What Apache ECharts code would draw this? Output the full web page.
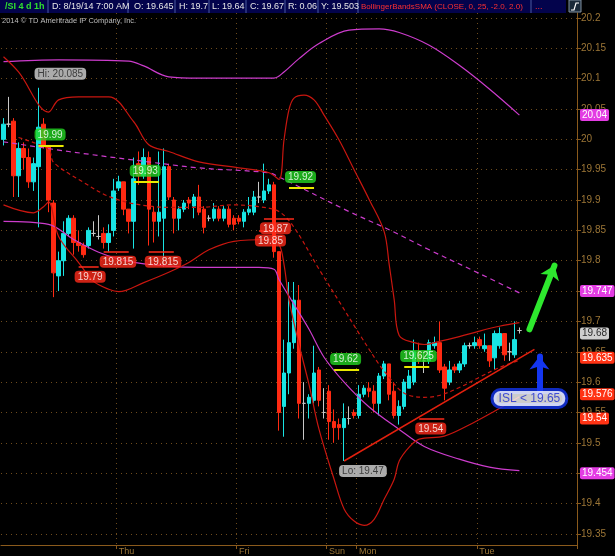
<!DOCTYPE html>
<html><head><meta charset="utf-8">
<script src="https://cdn.jsdelivr.net/npm/echarts@6/dist/echarts.min.js"></script>
<style>html,body{margin:0;padding:0;background:#000;}#c{width:615px;height:556px;}</style>
</head><body><div id="c"></div>
<script>
// ---------- data ----------
const slotCount = 115;               // hourly slots on the time axis
const dayTicks = [23, 47, 65, 71, 95];
const dayLabels = ['Thu', 'Fri', 'Sun', 'Mon', 'Tue'];
const priceTicks = [20.2,20.15,20.1,20.05,20,19.95,19.9,19.85,19.8,19.75,19.7,19.65,19.6,19.55,19.5,19.45,19.4,19.35];
const yMin = 19.3316, yMax = 20.2082;

// candles: [open, close, low, high]
const candles = [
[20.0,20.025,19.99,20.035],[20.025,20.025,20.02,20.07],[20.03,19.94,19.905,20.035],[19.94,19.985,19.905,19.995],
[19.985,19.97,19.95,19.995],[19.97,19.93,19.92,19.985],[19.93,19.96,19.915,19.97],[19.955,20.02,19.855,20.085],
[20.025,19.99,19.985,20.035],[19.99,19.9,19.88,19.99],[19.895,19.78,19.74,19.9],[19.775,19.8,19.75,19.815],
[19.8,19.845,19.775,19.865],[19.845,19.87,19.84,19.875],[19.87,19.83,19.81,19.875],[19.83,19.825,19.815,19.85],
[19.825,19.81,19.805,19.83],[19.825,19.85,19.82,19.855],[19.845,19.845,19.84,19.865],[19.84,19.84,19.835,19.875],
[19.845,19.83,19.82,19.855],[19.83,19.845,19.815,19.86],[19.85,19.915,19.84,19.935],[19.92,19.93,19.915,19.94],
[19.93,19.885,19.875,19.93],[19.885,19.865,19.845,19.885],[19.865,19.935,19.82,19.97],[19.96,19.94,19.925,19.98],
[19.94,19.97,19.935,19.985],[19.97,19.885,19.825,19.98],[19.88,19.865,19.83,19.89],[19.865,19.88,19.84,19.98],
[19.87,19.955,19.79,19.985],[19.955,19.905,19.9,19.96],[19.9,19.87,19.845,19.905],[19.87,19.885,19.85,19.89],
[19.885,19.895,19.88,19.9],[19.9,19.895,19.885,19.905],[19.89,19.905,19.87,19.91],[19.905,19.88,19.875,19.925],
[19.885,19.855,19.845,19.89],[19.87,19.87,19.865,19.875],[19.87,19.885,19.865,19.895],[19.885,19.87,19.865,19.89],
[19.87,19.885,19.865,19.89],[19.885,19.86,19.855,19.89],[19.87,19.86,19.85,19.875],[19.87,19.865,19.86,19.875],
[19.865,19.88,19.855,19.885],[19.88,19.885,19.875,19.905],[19.88,19.905,19.875,19.915],[19.905,19.905,19.895,19.93],
[19.9,19.915,19.895,19.96],[19.915,19.925,19.91,19.935],[19.925,19.815,19.805,19.93],[19.815,19.55,19.52,19.815],
[19.56,19.615,19.51,19.67],[19.615,19.665,19.58,19.765],[19.665,19.735,19.655,19.765],[19.735,19.565,19.54,19.76],
[19.565,19.565,19.505,19.6],[19.565,19.575,19.54,19.58],[19.57,19.615,19.565,19.66],[19.62,19.57,19.56,19.625],
[19.55,19.55,19.54,19.59],[19.585,19.535,19.505,19.595],[19.535,19.525,19.5,19.555],[19.53,19.525,19.505,19.54],
[19.525,19.54,19.47,19.565],[19.54,19.54,19.53,19.56],[19.55,19.545,19.54,19.555],[19.545,19.58,19.54,19.595],
[19.58,19.59,19.575,19.595],[19.59,19.585,19.575,19.6],[19.585,19.565,19.55,19.595],[19.565,19.61,19.545,19.615],
[19.61,19.63,19.605,19.635],[19.63,19.58,19.57,19.63],[19.585,19.545,19.54,19.6],[19.545,19.56,19.53,19.57],
[19.56,19.6,19.555,19.605],[19.59,19.61,19.59,19.62],[19.6,19.65,19.595,19.67],[19.65,19.635,19.63,19.665],
[19.635,19.635,19.615,19.65],[19.635,19.665,19.63,19.67],[19.66,19.665,19.655,19.675],[19.665,19.62,19.615,19.7],
[19.625,19.59,19.57,19.63],[19.6,19.62,19.595,19.635],[19.625,19.62,19.615,19.63],[19.62,19.63,19.615,19.635],
[19.63,19.66,19.625,19.665],[19.66,19.66,19.655,19.665],[19.66,19.665,19.655,19.675],[19.67,19.66,19.655,19.675],
[19.655,19.66,19.65,19.68],[19.66,19.635,19.625,19.66],[19.64,19.68,19.62,19.685],[19.66,19.68,19.655,19.69],
[19.68,19.645,19.635,19.68],[19.65,19.65,19.635,19.665],[19.645,19.67,19.64,19.7],[19.685,19.685,19.68,19.69]
];

// Bollinger (25, 2) on the hourly chart: [slot, value]
const bbUpper = [[0,20.136],[3,20.111],[9,20.045],[11,20.065],[15,20.07],[21,20.07],[26,20.029],[29,19.991],[33,19.98],[39,19.963],[47,19.953],[53,19.945],[55,19.934],[56,19.999],[57,20.049],[58,20.068],[60,20.073],[62,20.065],[64,20.04],[67,19.999],[70,19.95],[73,19.901],[76,19.848],[77,19.794],[78,19.736],[79,19.677],[82,19.665],[84,19.662],[87,19.667],[91,19.675],[95,19.684],[99,19.692],[103,19.698]];
const bbMiddle = [[3,20.003],[9,19.983],[10,19.962],[16,19.929],[21,19.906],[26,19.894],[33,19.888],[39,19.888],[46,19.892],[51,19.889],[55,19.881],[58,19.855],[63,19.786],[67,19.733],[71,19.68],[75,19.629],[77,19.608],[79,19.588],[81,19.578],[84,19.575],[87,19.578],[91,19.591],[95,19.608],[99,19.624],[103,19.636]];
const bbLower = [[0,19.892],[6,19.879],[8,19.889],[9,19.897],[11,19.84],[15,19.797],[18,19.766],[21,19.753],[23,19.749],[28,19.764],[33,19.781],[37,19.797],[41,19.818],[46,19.832],[53,19.835],[55,19.827],[56,19.794],[57,19.736],[59,19.662],[61,19.596],[63,19.522],[66,19.44],[68,19.391],[70,19.371],[72,19.364],[74,19.374],[76,19.407],[78,19.44],[79,19.47],[81,19.493],[83,19.506],[88,19.511],[94,19.534],[98,19.552],[103,19.576]];
// longer Bollinger (magenta): [slot, value]
const longUpper = [[0,20.128],[11,20.131],[25,20.129],[28,20.121],[33,20.103],[39,20.101],[54,20.101],[56,20.111],[59,20.133],[63,20.158],[69,20.18],[75,20.182],[79,20.176],[85,20.155],[91,20.122],[97,20.083],[103,20.04]];
const longMiddle = [[0,19.996],[13,19.98],[26,19.966],[39,19.953],[53,19.945],[55,19.938],[59,19.922],[69,19.881],[77,19.851],[85,19.818],[95,19.779],[103,19.747]];
const longLower = [[0,19.865],[9,19.86],[14,19.835],[19,19.814],[25,19.799],[33,19.791],[39,19.789],[51,19.789],[54,19.786],[55,19.769],[58,19.728],[61,19.687],[64,19.641],[68,19.6],[73,19.559],[79,19.522],[84,19.494],[91,19.473],[97,19.46],[103,19.454]];

const trendLine = [[68,19.47],[106,19.654]];
// swing levels: [fromSlot, toSlot, price]
const swingHighs = [[7,12,19.99],[26,31,19.93],[57,62,19.92],[66,71,19.62],[80,85,19.625]];
const swingLows = [[15,19,19.79],[20,25,19.815],[29,34,19.815],[52,58,19.87],[51,56,19.85],[83,88,19.54]];
const extremes = [{slot:7, value:20.085, text:'Hi: 20.085', dir:'up'},{slot:68, value:19.47, text:'Lo: 19.47', dir:'down'}];
const priceBadges = [
  {value:20.04, text:'20.04', kind:'magenta'},
  {value:19.747, text:'19.747', kind:'magenta'},
  {value:19.68, text:'19.68', kind:'gray'},
  {value:19.635, text:'19.635', kind:'red'},
  {value:19.576, text:'19.576', kind:'red'},
  {value:19.54, text:'19.54', kind:'red'},
  {value:19.454, text:'19.454', kind:'magenta'}
];
const upArrow = [[105,19.687],[110,19.792]];
const islArrow = [[107,19.58],[107,19.642]];
const islNote = {slot:105, value:19.573, text:'ISL < 19.65'};
const headerItems = [
  {x:5, text:'/SI 4 d 1h', color:'#2fe02f', bold:true},
  {x:52, text:'D: 8/19/14 7:00 AM'},
  {x:134, text:'O: 19.645'},
  {x:179, text:'H: 19.7'},
  {x:212, text:'L: 19.64'},
  {x:250, text:'C: 19.67'},
  {x:288, text:'R: 0.06'},
  {x:321, text:'Y: 19.503'},
  {x:361, text:'BollingerBandsSMA (CLOSE, 0, 25, -2.0, 2.0)', color:'#ff3030', size:8},
  {x:535, text:'...', color:'#ff3030'}
];
const headerSeps = [48,128,175,209,246,285,318,358,531];

// ---------- styles ----------
const FONT = '"Liberation Sans", Arial, sans-serif';
const CYAN = '#19e4e4', RED = '#ff2a12', DOJI = '#c8c8c8';
const BBRED = '#c8160f', MAG = '#cc3ccc';
const AXIS = '#8a5a1c', TXT = '#9c7636', GRID = '#6e4c1e';
const badgeColors = {magenta:['#e33ce3','#ffffff'], red:['#ff3314','#ffffff'], gray:['#cfcfcf','#2a2a2a']};

const cats = Array.from({length: slotCount}, (_, i) => 'h' + i);

function lineSeries(data, color, type, width) {
  return {type:'line', data, showSymbol:false, smooth:0.35, z:4, silent:true,
    lineStyle:{color, width: width || 1.2, type: type || 'solid'}};
}

const segLines = [];
swingHighs.forEach(([a,b,v]) => segLines.push([{coord:[a,v], lineStyle:{color:'#e8e800', width:2, type:'solid'}},{coord:[b,v]}]));
swingLows.forEach(([a,b,v]) => segLines.push([{coord:[a,v], lineStyle:{color:'#ff2a1a', width:1.5, type:'solid'}},{coord:[b,v]}]));

const bubbleData = [];
swingHighs.forEach(([a,b,v]) => bubbleData.push({value:[a,v], label:{formatter:String(v), position:[-4,-17], backgroundColor:'#22d422', color:'#ffffff'}}));
swingLows.forEach(([a,b,v]) => bubbleData.push({value:[a,v], label:{formatter:String(v), position:[-4,4], backgroundColor:'#ff2a1a', color:'#ffffff'}}));
extremes.forEach(e => bubbleData.push({value:[e.slot,e.value], label:{formatter:e.text, position: e.dir==='up' ? [-4,-20] : [-5,4], backgroundColor:'#d6d6d6', color:'#222'}}));

const badgeLines = priceBadges.map(b => ({
  yAxis: b.value,
  lineStyle:{color:'rgba(0,0,0,0)', width:0},
  label:{show:true, position:'end', distance:3, formatter:b.text, backgroundColor:badgeColors[b.kind][0], color:badgeColors[b.kind][1],
    fontSize:10, fontFamily:FONT, padding:[1,2,0,2], borderRadius:2, lineHeight:11}
}));

const graphics = [
  {type:'rect', shape:{x:0, y:0, width:566, height:13}, style:{fill:'#03034c'}, z:100},
  {type:'rect', shape:{x:569, y:0, width:12, height:12}, style:{fill:'#1a2a3a', stroke:'#8090a0', lineWidth:1}, z:100},
  {type:'polyline', shape:{points:[[571,10],[574,10],[576,3],[579,3]]}, style:{stroke:'#ffffff', lineWidth:1.2, fill:null}, z:101},
  {type:'text', style:{text:'2014 © TD Ameritrade IP Company, Inc.', x:2, y:21, fill:'#bdbdbd', font:'7.5px ' + FONT, verticalAlign:'middle', textVerticalAlign:'middle'}, z:100}
];
headerSeps.forEach(x => graphics.push({type:'line', shape:{x1:x, y1:0, x2:x, y2:13}, style:{stroke:'#4a5aa0', lineWidth:1}, z:101}));
headerItems.forEach(h => graphics.push({type:'text', style:{text:h.text, x:h.x, y:7, fill:h.color || '#e6e6e6',
  font:(h.bold ? 'bold ' : '') + (h.size || 9) + 'px ' + FONT, verticalAlign:'middle', textVerticalAlign:'middle'}, z:101}));

const option = {
  backgroundColor:'#000000',
  animation:false,
  grid:{left:1, right:38, top:13, bottom:10, containLabel:false},
  xAxis:{
    type:'category', data:cats, boundaryGap:true,
    axisLine:{show:true, lineStyle:{color:AXIS, width:1}},
    axisTick:{show:true, interval:(i)=>dayTicks.includes(i), length:4, lineStyle:{color:AXIS}},
    axisLabel:{show:true, interval:(i)=>dayTicks.includes(i), formatter:(v,i)=>dayLabels[dayTicks.indexOf(i)] || '',
      align:'left', color:TXT, fontSize:9, fontFamily:FONT, margin:2},
    splitLine:{show:true, interval:(i)=>dayTicks.includes(i), lineStyle:{color:GRID, type:[1,4], width:1}}
  },
  yAxis:{
    type:'value', position:'right', min:yMin, max:yMax,
    axisLine:{show:true, lineStyle:{color:AXIS, width:1}},
    axisTick:{show:true, customValues:priceTicks, length:4, lineStyle:{color:AXIS}},
    axisLabel:{show:true, customValues:priceTicks, formatter:(v)=>String(+v.toFixed(2)), color:TXT, fontSize:10, fontFamily:FONT, margin:4},
    splitLine:{show:true, lineStyle:{color:GRID, type:[1,4], width:1}}
  },
  series:[
    {type:'candlestick', data:candles, barWidth:4, z:2,
      itemStyle:{color:CYAN, color0:RED, borderColor:CYAN, borderColor0:RED, borderColorDoji:DOJI, borderWidth:1}},
    lineSeries(longUpper, MAG, 'solid', 1.2),
    lineSeries(longMiddle, MAG, [5,4], 1.2),
    lineSeries(longLower, MAG, 'solid', 1.2),
    lineSeries(bbUpper, BBRED, 'solid', 1.2),
    lineSeries(bbMiddle, BBRED, [4,3], 1.2),
    lineSeries(bbLower, BBRED, 'solid', 1.2),
    {type:'line', data:trendLine, showSymbol:false, z:5, silent:true, lineStyle:{color:'#e3200e', width:1.5},
      markLine:{silent:true, symbol:'none', label:{show:false}, data:segLines, z:6}},
    {type:'line', data:[], z:7, silent:true,
      markLine:{silent:true, symbol:['none','none'], data:badgeLines, z:20}},
    {type:'line', data:[], z:8, silent:true,
      markLine:{silent:true, symbol:['none','arrow'], symbolSize:[15,13], label:{show:false},
        data:[
          [{coord:upArrow[0], lineStyle:{color:'#2ee82e', width:6, cap:'round', type:'solid'}},{coord:upArrow[1]}],
          [{coord:islArrow[0], lineStyle:{color:'#1436f0', width:6, cap:'round', type:'solid'}},{coord:islArrow[1]}]
        ]}},
    {type:'scatter', data:bubbleData, symbolSize:0, z:9, silent:true,
      itemStyle:{color:'rgba(0,0,0,0)'},
      label:{show:true, fontSize:10, fontFamily:FONT, padding:[1,3,0,3], borderRadius:4, lineHeight:11}},
    {type:'scatter', data:[{value:[islNote.slot, islNote.value]}], symbolSize:0, z:10, silent:true,
      itemStyle:{color:'rgba(0,0,0,0)'},
      label:{show:true, position:'inside', formatter:islNote.text, fontSize:12, fontFamily:FONT, color:'#1a2ad0',
        backgroundColor:'#ffffff', borderColor:'#1436f0', borderWidth:3, borderRadius:7, padding:[2,5,1,5]}}
  ],
  graphic: graphics
};

const chart = echarts.init(document.getElementById('c'), null, {renderer:'canvas'});
chart.setOption(option);
</script>
</body></html>
